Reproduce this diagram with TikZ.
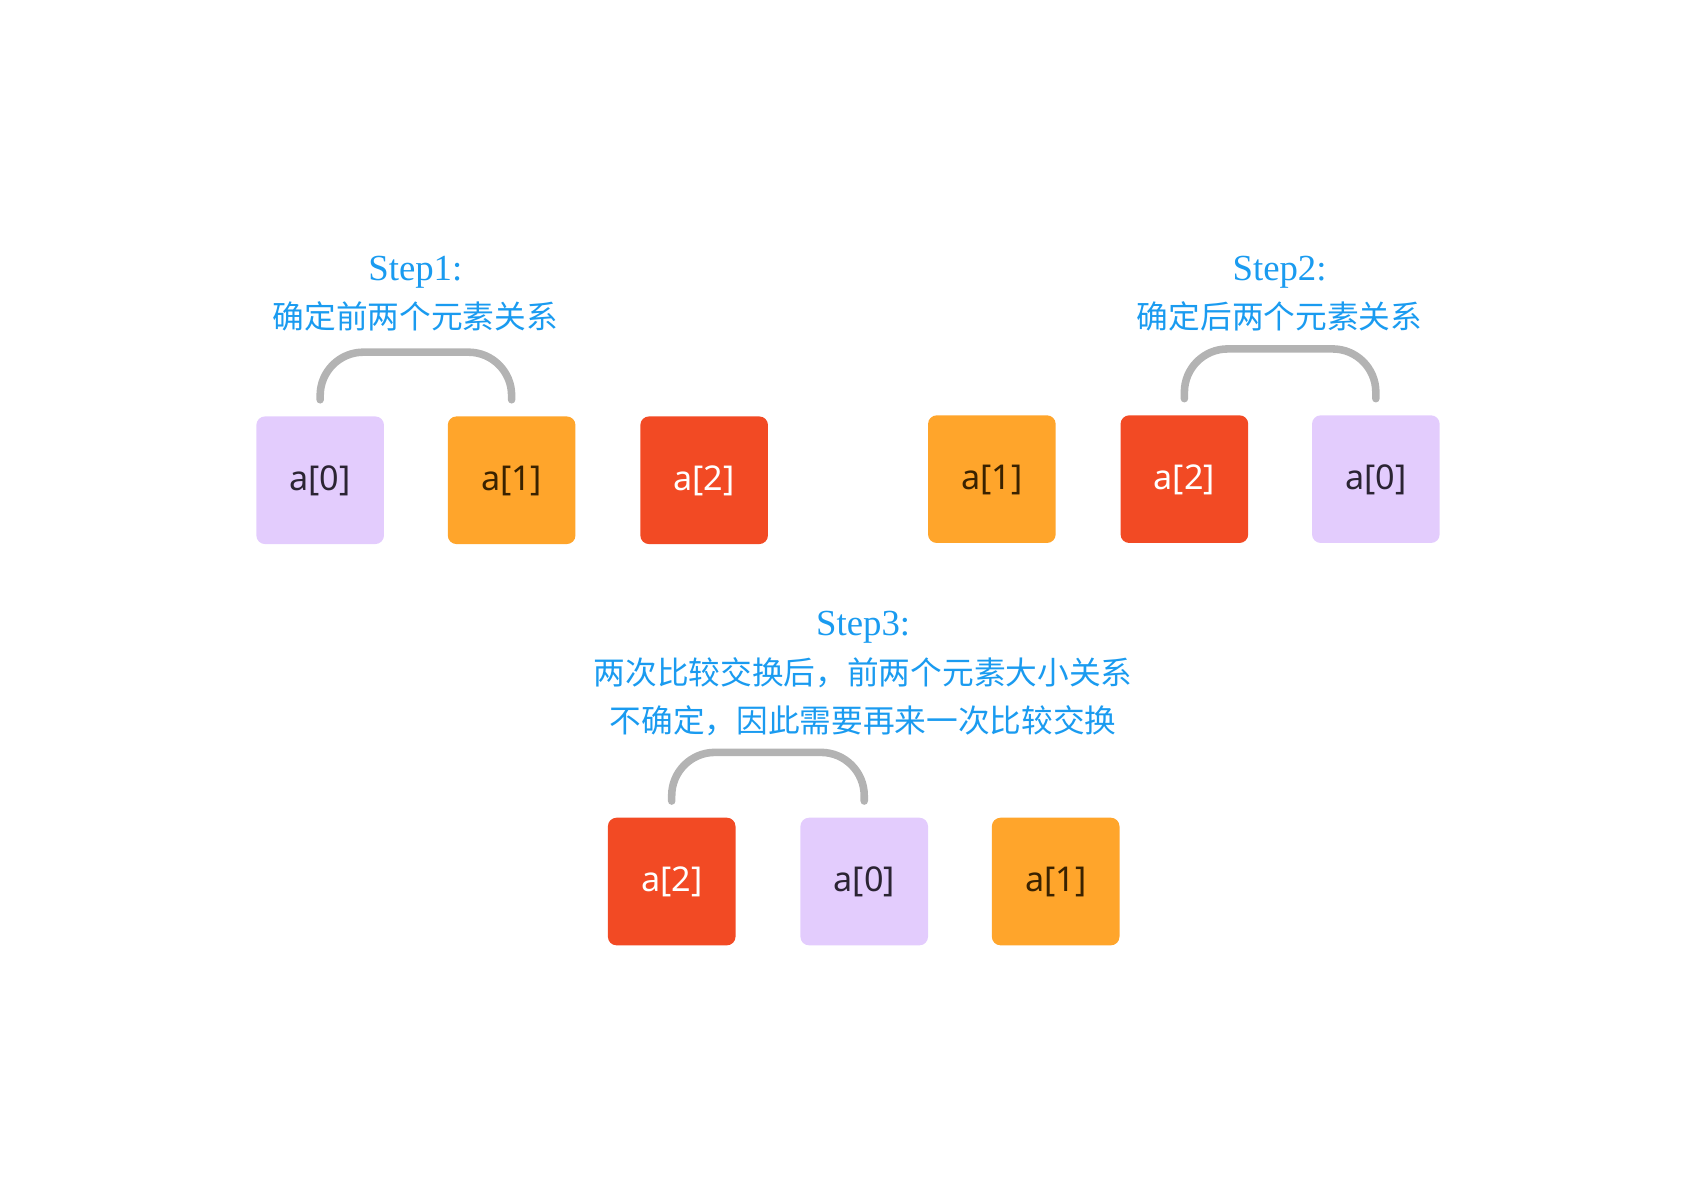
\documentclass[tikz,border=0pt]{standalone}
\usepackage{fontspec}
\newfontfamily\cjkf{Noto Sans CJK SC}
\newfontfamily\labf{Noto Sans}
\newfontfamily\stepf{Liberation Serif}
\definecolor{lav}{HTML}{E3CCFD}
\definecolor{org}{HTML}{FFA52B}
\definecolor{redo}{HTML}{F24A24}
\definecolor{brk}{HTML}{B3B3B3}
\definecolor{blu}{HTML}{1A9BF0}
\definecolor{dlav}{HTML}{2B2433}
\definecolor{dorg}{HTML}{3A2200}
\begin{document}
\begin{tikzpicture}[x=0.5pt,y=-0.5pt,
  cell/.style={rounded corners=4pt,minimum width=59pt,minimum height=59pt,inner sep=0pt,text height=1.02em,text depth=0.1em,font=\labf\fontsize{15.8}{18}\selectfont},
  c0/.style={cell,fill=lav,text=dlav},
  c1/.style={cell,fill=org,text=dorg},
  c2/.style={cell,fill=redo,text=white},
  stepl/.style={anchor=base,text=blu,inner sep=0pt,font=\stepf\fontsize{17}{20}\selectfont},
  cjkl/.style={anchor=base,text=blu,inner sep=0pt,font=\cjkf\fontsize{14.65}{18}\selectfont},
  bracket/.style={draw=brk,line width=3.5pt,line cap=round,rounded corners=20pt}]
\useasboundingbox (0,0) rectangle (1568,1111);
% Step 1
\node[c0] (s1a) at (296,444) {a[0]};
\node[c1] (s1b) at (473,444) {a[1]};
\node[c2] (s1c) at (651,444) {a[2]};
\node[stepl] (t1) at (384,259) {Step1:};
\node[cjkl] (t1b) at (384,304) {确定前两个元素关系};
\coordinate (b1a) at ([yshift=7.5pt]s1a.north);
\coordinate (b1b) at ([yshift=7.5pt]s1b.north);
\draw[bracket] (b1a) -- ++(0,-44) -| (b1b);
% Step 2
\node[c1] (s2a) at (917,443) {a[1]};
\node[c2] (s2b) at (1095,443) {a[2]};
\node[c0] (s2c) at (1272,443) {a[0]};
\node[stepl] (t2) at (1183,259) {Step2:};
\node[cjkl] (t2b) at (1183,304) {确定后两个元素关系};
\coordinate (b2a) at ([yshift=7.5pt]s2b.north);
\coordinate (b2b) at ([yshift=7.5pt]s2c.north);
\draw[bracket] (b2a) -- ++(0,-46) -| (b2b);
% Step 3
\node[c2] (s3a) at (621,815) {a[2]};
\node[c0] (s3b) at (799,815) {a[0]};
\node[c1] (s3c) at (976,815) {a[1]};
\node[stepl] (t3) at (798,588) {Step3:};
\node[cjkl] (t3b) at (798,633) {两次比较交换后，前两个元素大小关系};
\node[cjkl] (t3c) at (798,677) {不确定，因此需要再来一次比较交换};
\coordinate (b3a) at ([yshift=7.5pt]s3a.north);
\coordinate (b3b) at ([yshift=7.5pt]s3b.north);
\draw[bracket] (b3a) -- ++(0,-45) -| (b3b);
\end{tikzpicture}
\end{document}
